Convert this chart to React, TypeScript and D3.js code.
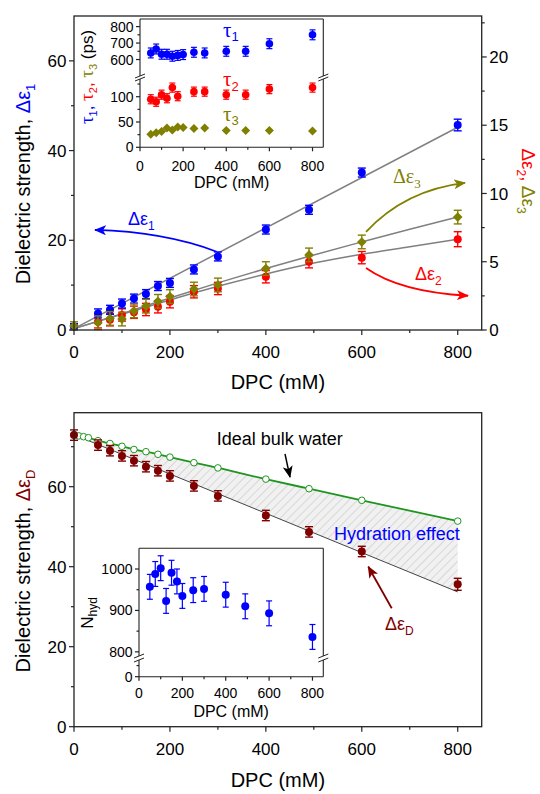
import React from 'react';
import * as d3 from 'd3';

// ---------- data ----------
// top panel: dielectric strengths vs DPC concentration (mM)
const dpcMain = [0, 50, 75, 100, 125, 150, 175, 200, 250, 300, 400, 490, 600, 800];
const de1 = [0.8, 3.7, 4.5, 5.9, 7.0, 8.0, 9.8, 10.5, 13.5, 16.4, 22.4, 26.8, 35.1, 45.7];
const de1Err = [0.6, 1.0, 1.0, 1.0, 1.0, 1.0, 1.0, 1.0, 1.0, 1.0, 1.0, 1.0, 1.0, 1.3];
const dpcDe2 = [50, 75, 100, 125, 150, 175, 200, 250, 300, 400, 490, 600, 800];
const de2 = [0.6, 0.75, 1.1, 1.3, 1.5, 1.7, 2.07, 2.8, 3.04, 3.9, 5.0, 5.3, 6.65];
const de2Err = [0.45, 0.45, 0.45, 0.45, 0.45, 0.45, 0.45, 0.45, 0.45, 0.45, 0.45, 0.45, 0.55];
const de3 = [0.3, 0.53, 0.85, 0.8, 1.4, 1.75, 2.1, 2.45, 3.0, 3.3, 4.5, 5.5, 6.45, 8.27];
const de3Err = [0.3, 0.5, 0.5, 0.5, 0.5, 0.5, 0.5, 0.5, 0.5, 0.5, 0.5, 0.5, 0.5, 0.5];
// fit curves
const fit1X = [0, 800];
const fit1 = [0.3, 45.2];
const fitX = [0, 100, 200, 300, 400, 500, 600, 700, 800];
const fit2 = [0.1, 1.15, 2.2, 3.2, 4.1, 4.9, 5.55, 6.1, 6.65];
const fit3 = [0.1, 1.2, 2.35, 3.45, 4.5, 5.5, 6.45, 7.38, 8.27];

// top inset: relaxation times (ps)
const dpcTau = [50, 75, 100, 125, 150, 175, 200, 250, 300, 400, 490, 600, 800];
const tau1 = [640, 664, 632, 632, 620, 625, 630, 644, 640, 650, 650, 696, 750];
const tau1Err = [30, 30, 30, 30, 30, 30, 30, 30, 30, 30, 30, 30, 30];
const dpcTau2 = [50, 75, 100, 125, 150, 175, 250, 300, 400, 490, 600, 800];
const tau2 = [95, 90, 104, 97, 118, 101, 110, 110, 104, 104, 115, 118];
const tau2Err = [9, 9, 9, 9, 9, 9, 9, 9, 9, 9, 9, 9];
const tau3 = [26, 29, 31, 38, 34, 40, 39, 37, 38, 33, 33, 33, 32];

// bottom panel
const dpcD = [0, 50, 75, 100, 125, 150, 175, 200, 250, 300, 400, 490, 600, 800];
const deD = [72.9, 70.4, 69.0, 67.7, 66.5, 65.0, 64.0, 62.7, 60.2, 57.7, 52.8, 48.7, 43.8, 35.6];
const deDErr = [1.3, 1.3, 1.3, 1.3, 1.3, 1.3, 1.3, 1.3, 1.3, 1.3, 1.3, 1.3, 1.3, 1.5];
const dpcIdeal = [0, 10, 20, 30, 50, 75, 100, 125, 150, 175, 200, 250, 300, 400, 490, 600, 800];
const ideal = [73.0, 72.7, 72.5, 72.25, 71.5, 70.8, 70.1, 69.3, 68.75, 68.1, 67.4, 66.0, 64.7, 61.9, 59.5, 56.6, 51.4];
const fitDX = [0, 800];
const fitD = [73.0, 33.7];

// bottom inset: hydration number
const dpcN = [50, 75, 100, 125, 150, 175, 200, 250, 300, 400, 490, 600, 800];
const nhyd = [957, 988, 1002, 923, 991, 970, 935, 949, 952, 938, 910, 893, 836];
const nhydErr = [30, 30, 30, 30, 30, 30, 30, 30, 30, 30, 30, 30, 30];

// ticks
const xMajor = [0, 200, 400, 600, 800];
const xMinor = [100, 300, 500, 700];
const topLMajor = [0, 20, 40, 60];
const topLMinor = [10, 30, 50];
const topRMajor = [0, 5, 10, 15, 20];
const topRMinor = [2.5, 7.5, 12.5, 17.5, 22.5];
const botMajor = [0, 20, 40, 60];
const botMinor = [10, 30, 50, 70];
const tauUMajor = [600, 700, 800];
const tauUMinor = [650, 750];
const tauLMajor = [0, 50, 100];
const tauLMinor = [25, 75, 125];
const nUMajor = [800, 900, 1000];
const nUMinor = [850, 950];
const nLMajor = [0];
const nLMinor = [40];

const BLUE = '#0000ff';
const RED = '#ff0000';
const OLIVE = '#808000';
const DRED = '#800000';
const GREEN = '#1f951f';
const GRAY = '#808080';
const AX = '#222';
const SANS = "'Liberation Sans', Arial, sans-serif";
const SERIF = "'Liberation Serif', 'Times New Roman', serif";

type Sc = d3.ScaleLinear<number, number>;

function errBars(xs: number[], ys: number[], es: number[], sx: Sc, sy: Sc, color: string, cap = 4, w = 1.4) {
  return (
    <g stroke={color} strokeWidth={w}>
      {xs.map((d, i) => {
        const cx = sx(d);
        const a = sy(ys[i] - es[i]);
        const b = sy(ys[i] + es[i]);
        return (
          <g key={i}>
            <line x1={cx} x2={cx} y1={a} y2={b} />
            <line x1={cx - cap} x2={cx + cap} y1={a} y2={a} />
            <line x1={cx - cap} x2={cx + cap} y1={b} y2={b} />
          </g>
        );
      })}
    </g>
  );
}

function dots(xs: number[], ys: number[], sx: Sc, sy: Sc, color: string, r = 4) {
  return xs.map((d, i) => <circle key={i} cx={sx(d)} cy={sy(ys[i])} r={r} fill={color} />);
}

function diamonds(xs: number[], ys: number[], sx: Sc, sy: Sc, color: string, s = 4.8) {
  return xs.map((d, i) => {
    const cx = sx(d), cy = sy(ys[i]);
    return <path key={i} d={`M${cx},${cy - s}L${cx + s},${cy}L${cx},${cy + s}L${cx - s},${cy}Z`} fill={color} />;
  });
}

function yTicks(sc: Sc, x0: number, major: number[], minor: number[], side: number, fs: number, len = 5, mlen = 3, label = true) {
  return (
    <g>
      {minor.map(v => <line key={'m' + v} x1={x0} x2={x0 + side * mlen} y1={sc(v)} y2={sc(v)} stroke={AX} strokeWidth={1.2} />)}
      {major.map(v => (
        <g key={'M' + v}>
          <line x1={x0} x2={x0 + side * len} y1={sc(v)} y2={sc(v)} stroke={AX} strokeWidth={1.2} />
          {label && (
            <text x={x0 + side * (len + 2.5)} y={sc(v)} dy="0.36em" fontSize={fs} textAnchor={side < 0 ? 'end' : 'start'}>{v}</text>
          )}
        </g>
      ))}
    </g>
  );
}

function xTicks(sc: Sc, y0: number, major: number[], minor: number[], fs: number, labelY: number, len = 5, mlen = 3) {
  return (
    <g>
      {minor.map(v => <line key={'m' + v} x1={sc(v)} x2={sc(v)} y1={y0} y2={y0 + mlen} stroke={AX} strokeWidth={1.2} />)}
      {major.map(v => (
        <g key={'M' + v}>
          <line x1={sc(v)} x2={sc(v)} y1={y0} y2={y0 + len} stroke={AX} strokeWidth={1.2} />
          <text x={sc(v)} y={labelY} fontSize={fs} textAnchor="middle">{v}</text>
        </g>
      ))}
    </g>
  );
}

function breakMark(cx: number, ya: number, yb: number) {
  return (
    <g>
      <rect x={cx - 3} y={ya} width={6} height={yb - ya} fill="#fff" />
      <line x1={cx - 5} x2={cx + 5} y1={ya + 2} y2={ya - 2} stroke={AX} strokeWidth={1} />
      <line x1={cx - 5} x2={cx + 5} y1={yb + 2} y2={yb - 2} stroke={AX} strokeWidth={1} />
    </g>
  );
}

function Arrowhead({ id, color }: { id: string; color: string }) {
  return (
    <marker id={id} viewBox="0 0 12 10" refX={11} refY={5} markerWidth={12} markerHeight={10} markerUnits="userSpaceOnUse" orient="auto">
      <path d="M0,0 L12,5 L0,10 L3,5 Z" fill={color} />
    </marker>
  );
}

export default function App() {
  const x = d3.scaleLinear().domain([0, 850]).range([74, 481.7]);
  const yL = d3.scaleLinear().domain([0, 70]).range([330, 16]);
  const yR = d3.scaleLinear().domain([0, 23]).range([330, 16]);
  const yB = d3.scaleLinear().domain([0, 78.5]).range([726.7, 412.7]);
  const ix = d3.scaleLinear().domain([0, 850]).range([140, 323.3]);
  const iyU = d3.scaleLinear().domain([500, 846]).range([76, 19]);
  const iyL = d3.scaleLinear().domain([0, 135]).range([147.3, 79]);
  const nx = d3.scaleLinear().domain([0, 850]).range([139, 323.3]);
  const nyU = d3.scaleLinear().domain([790, 1050]).range([656, 548.3]);
  const nyL = d3.scaleLinear().domain([0, 60]).range([676.7, 660]);

  const lineOf = (xs: number[], sy: Sc) =>
    d3.line<number>().x((_, i) => x(xs[i])).y(d => sy(d)).curve(d3.curveMonotoneX);

  const fitDAt = d3.scaleLinear().domain(fitDX).range(fitD);
  const hatch = d3.area<number>()
    .x((_, i) => x(dpcIdeal[i]))
    .y0((_, i) => yB(fitDAt(dpcIdeal[i])))
    .y1(d => yB(d));

  const curve = (x0: number, y0: number, cx: number, cy: number, x1: number, y1: number) =>
    `M${x0},${y0} Q${cx},${cy} ${x1},${y1}`;

  const x0 = x(0), x1 = x(850);

  return (
    <div style={{ position: 'absolute', left: 0, top: 0 }}>
      <svg width={540} height={794} style={{ display: 'block', fontFamily: SANS }}>
        <defs>
          <pattern id="hatch" width={6} height={6} patternUnits="userSpaceOnUse" patternTransform="rotate(45)">
            <rect width={6} height={6} fill="#f1f1f1" />
            <line x1={0} y1={0} x2={0} y2={6} stroke="#bdbdbd" strokeWidth={1} />
          </pattern>
          <Arrowhead id="ahBlue" color={BLUE} />
          <Arrowhead id="ahRed" color={RED} />
          <Arrowhead id="ahOlive" color={OLIVE} />
          <Arrowhead id="ahDred" color={DRED} />
          <Arrowhead id="ahBlack" color="#000" />
        </defs>
        <rect width={540} height={794} fill="#fff" />

        {/* ================= TOP PANEL ================= */}
        <path d={lineOf(fit1X, yL)(fit1) || ''} fill="none" stroke={GRAY} strokeWidth={1.5} />
        <path d={lineOf(fitX, yR)(fit2) || ''} fill="none" stroke={GRAY} strokeWidth={1.5} />
        <path d={lineOf(fitX, yR)(fit3) || ''} fill="none" stroke={GRAY} strokeWidth={1.5} />

        {errBars(dpcDe2, de2, de2Err, x, yR, RED)}
        {dots(dpcDe2, de2, x, yR, RED)}
        {errBars(dpcMain, de1, de1Err, x, yL, BLUE)}
        {dots(dpcMain, de1, x, yL, BLUE)}
        {errBars(dpcMain, de3, de3Err, x, yR, OLIVE)}
        {diamonds(dpcMain, de3, x, yR, OLIVE)}

        {/* frame */}
        <rect x={x0} y={yL(70)} width={x1 - x0} height={yL(0) - yL(70)} fill="none" stroke={AX} strokeWidth={1.3} />
        {yTicks(yL, x0, topLMajor, topLMinor, -1, 17)}
        {yTicks(yR, x1, topRMajor, topRMinor, 1, 17)}
        {xTicks(x, yL(0), xMajor, xMinor, 17, 358)}
        <text x={(x0 + x1) / 2} y={389} fontSize={20} textAnchor="middle">DPC (mM)</text>

        <text transform={`translate(30,184) rotate(-90)`} fontSize={20} textAnchor="middle">
          {'Dielectric strength, '}
          <tspan fill={BLUE}>Δε</tspan>
          <tspan fill={BLUE} fontSize={13} dy={5}>1</tspan>
        </text>
        <text transform={`translate(522,181) rotate(90)`} fontSize={19} textAnchor="middle">
          <tspan fill={RED}>Δε</tspan>
          <tspan fill={RED} fontSize={12} dy={5}>2</tspan>
          <tspan fill={RED} dy={-5}>{', '}</tspan>
          <tspan fill={OLIVE}>Δε</tspan>
          <tspan fill={OLIVE} fontSize={12} dy={5}>3</tspan>
        </text>

        {/* annotations */}
        <path d={curve(x(297.5), yL(17.45), x(189.7), yL(21.85), x(43.8), yL(22.3))} fill="none" stroke={BLUE} strokeWidth={1.8} markerEnd="url(#ahBlue)" />
        <text x={x(112.6)} y={yL(23.4)} fontSize={18} fill={BLUE}>Δε<tspan fontSize={12} dy={5}>1</tspan></text>
        <path d={curve(x(608.8), yR(7.18), x(690), yR(10.25), x(815.2), yR(10.77))} fill="none" stroke={OLIVE} strokeWidth={1.8} markerEnd="url(#ahOlive)" />
        <text x={x(665)} y={yR(10.8)} fontSize={20} fill={OLIVE} fontFamily={SERIF}>Δε<tspan fontSize={13} dy={5}>3</tspan></text>
        <path d={curve(x(608.8), yR(4.54), x(679.7), yR(2.78), x(821.4), yR(2.51))} fill="none" stroke={RED} strokeWidth={1.8} markerEnd="url(#ahRed)" />
        <text x={x(711)} y={yR(3.65)} fontSize={18} fill={RED}>Δε<tspan fontSize={12} dy={5}>2</tspan></text>

        {/* ---- top inset ---- */}
        <rect x={ix(0)} y={iyU(846)} width={ix(850) - ix(0)} height={iyL(0) - iyU(846)} fill="#fff" />
        {errBars(dpcTau, tau1, tau1Err, ix, iyU, BLUE, 3, 1.2)}
        {dots(dpcTau, tau1, ix, iyU, BLUE, 3.8)}
        {errBars(dpcTau2, tau2, tau2Err, ix, iyL, RED, 3, 1.2)}
        {dots(dpcTau2, tau2, ix, iyL, RED, 3.8)}
        {diamonds(dpcTau, tau3, ix, iyL, OLIVE, 4.5)}
        <g stroke={AX} strokeWidth={1.1} fill="none">
          <line x1={ix(0)} x2={ix(850)} y1={iyU(846)} y2={iyU(846)} />
          <line x1={ix(0)} x2={ix(850)} y1={iyL(0)} y2={iyL(0)} />
          <line x1={ix(0)} x2={ix(0)} y1={iyU(846)} y2={iyU(500)} />
          <line x1={ix(0)} x2={ix(0)} y1={iyL(135)} y2={iyL(0)} />
          <line x1={ix(850)} x2={ix(850)} y1={iyU(846)} y2={iyU(500)} />
          <line x1={ix(850)} x2={ix(850)} y1={iyL(135)} y2={iyL(0)} />
        </g>
        {breakMark(ix(0), iyU(500), iyL(135))}
        {breakMark(ix(850), iyU(500), iyL(135))}
        {yTicks(iyU, ix(0), tauUMajor, tauUMinor, -1, 14, 4, 2.5)}
        {yTicks(iyL, ix(0), tauLMajor, tauLMinor, -1, 14, 4, 2.5)}
        {xTicks(ix, iyL(0), xMajor, xMinor, 14, 170.5, 4, 2.5)}
        <text x={(ix(0) + ix(850)) / 2} y={188} fontSize={16} textAnchor="middle">DPC (mM)</text>
        <text transform={`translate(93,77) rotate(-90)`} fontSize={17} textAnchor="middle">
          <tspan fill={BLUE} fontFamily={SERIF} fontSize={19}>τ</tspan>
          <tspan fill={BLUE} fontSize={11} dy={4}>1</tspan>
          <tspan fill={BLUE} dy={-4}>{', '}</tspan>
          <tspan fill={RED} fontFamily={SERIF} fontSize={19}>τ</tspan>
          <tspan fill={RED} fontSize={11} dy={4}>2</tspan>
          <tspan fill={RED} dy={-4}>{', '}</tspan>
          <tspan fill={OLIVE} fontFamily={SERIF} fontSize={19}>τ</tspan>
          <tspan fill={OLIVE} fontSize={11} dy={4}>3</tspan>
          <tspan fill="#000" dy={-4}>{' (ps)'}</tspan>
        </text>
        <text x={ix(385)} y={iyU(737)} fontSize={21} fill={BLUE} fontFamily={SERIF}>τ<tspan fontSize={13} fontFamily={SANS} dy={4}>1</tspan></text>
        <text x={ix(385)} y={iyL(122)} fontSize={21} fill={RED} fontFamily={SERIF}>τ<tspan fontSize={13} fontFamily={SANS} dy={5}>2</tspan></text>
        <text x={ix(385)} y={iyL(52)} fontSize={21} fill={OLIVE} fontFamily={SERIF}>τ<tspan fontSize={13} fontFamily={SANS} dy={4}>3</tspan></text>

        {/* ================= BOTTOM PANEL ================= */}
        <path d={hatch(ideal) || ''} fill="url(#hatch)" stroke="none" />
        <path d={lineOf(fitDX, yB)(fitD) || ''} fill="none" stroke="#444" strokeWidth={1} />
        <path d={lineOf(dpcIdeal, yB)(ideal) || ''} fill="none" stroke={GREEN} strokeWidth={1.8} />
        {dpcIdeal.map((d, i) => (
          <circle key={i} cx={x(d)} cy={yB(ideal[i])} r={3.3} fill="#fff" stroke={GREEN} strokeWidth={1} />
        ))}
        {errBars(dpcD, deD, deDErr, x, yB, DRED)}
        {dots(dpcD, deD, x, yB, DRED)}

        <rect x={x0} y={yB(78.5)} width={x1 - x0} height={yB(0) - yB(78.5)} fill="none" stroke={AX} strokeWidth={1.3} />
        {yTicks(yB, x0, botMajor, botMinor, -1, 17)}
        {xTicks(x, yB(0), xMajor, xMinor, 17, 755)}
        <text x={(x0 + x1) / 2} y={787} fontSize={20} textAnchor="middle">DPC (mM)</text>
        <text transform={`translate(30,571) rotate(-90)`} fontSize={20} textAnchor="middle">
          {'Dielectric strength, '}
          <tspan fill={DRED}>Δε</tspan>
          <tspan fill={DRED} fontSize={13} dy={5}>D</tspan>
        </text>

        <text x={x(297.5)} y={yB(70.4)} fontSize={18}>Ideal bulk water</text>
        <line x1={x(439.9)} y1={yB(68.2)} x2={x(450.3)} y2={yB(62.4)} stroke="#000" strokeWidth={1.5} markerEnd="url(#ahBlack)" />
        <text x={x(542)} y={yB(46.7)} fontSize={18} fill={BLUE}>Hydration effect</text>
        <text x={x(648.4)} y={yB(24.2)} fontSize={18} fill={DRED}>Δε<tspan fontSize={12} dy={5}>D</tspan></text>
        <line x1={x(662.4)} y1={yB(29.6)} x2={x(613.6)} y2={yB(40)} stroke={DRED} strokeWidth={1.8} markerEnd="url(#ahDred)" />

        {/* ---- bottom inset ---- */}
        <rect x={nx(0)} y={nyU(1050)} width={nx(850) - nx(0)} height={nyL(0) - nyU(1050)} fill="#fff" />
        {errBars(dpcN, nhyd, nhydErr, nx, nyU, BLUE, 3, 1.2)}
        {dots(dpcN, nhyd, nx, nyU, BLUE, 4)}
        <g stroke={AX} strokeWidth={1.1} fill="none">
          <line x1={nx(0)} x2={nx(850)} y1={nyU(1050)} y2={nyU(1050)} />
          <line x1={nx(0)} x2={nx(850)} y1={nyL(0)} y2={nyL(0)} />
          <line x1={nx(0)} x2={nx(0)} y1={nyU(1050)} y2={nyU(790)} />
          <line x1={nx(0)} x2={nx(0)} y1={nyL(60)} y2={nyL(0)} />
          <line x1={nx(850)} x2={nx(850)} y1={nyU(1050)} y2={nyU(790)} />
          <line x1={nx(850)} x2={nx(850)} y1={nyL(60)} y2={nyL(0)} />
        </g>
        {breakMark(nx(0), nyU(790), nyL(60))}
        {breakMark(nx(850), nyU(790), nyL(60))}
        {yTicks(nyU, nx(0), nUMajor, nUMinor, -1, 14, 4, 2.5)}
        {yTicks(nyL, nx(0), nLMajor, nLMinor, -1, 14, 4, 2.5)}
        {xTicks(nx, nyL(0), xMajor, xMinor, 14, 698, 4, 2.5)}
        <text x={(nx(0) + nx(850)) / 2} y={717} fontSize={16} textAnchor="middle">DPC (mM)</text>
        <text transform={`translate(93,613) rotate(-90)`} fontSize={17} textAnchor="middle">
          N<tspan fontSize={12} dy={4}>hyd</tspan>
        </text>
      </svg>
    </div>
  );
}
